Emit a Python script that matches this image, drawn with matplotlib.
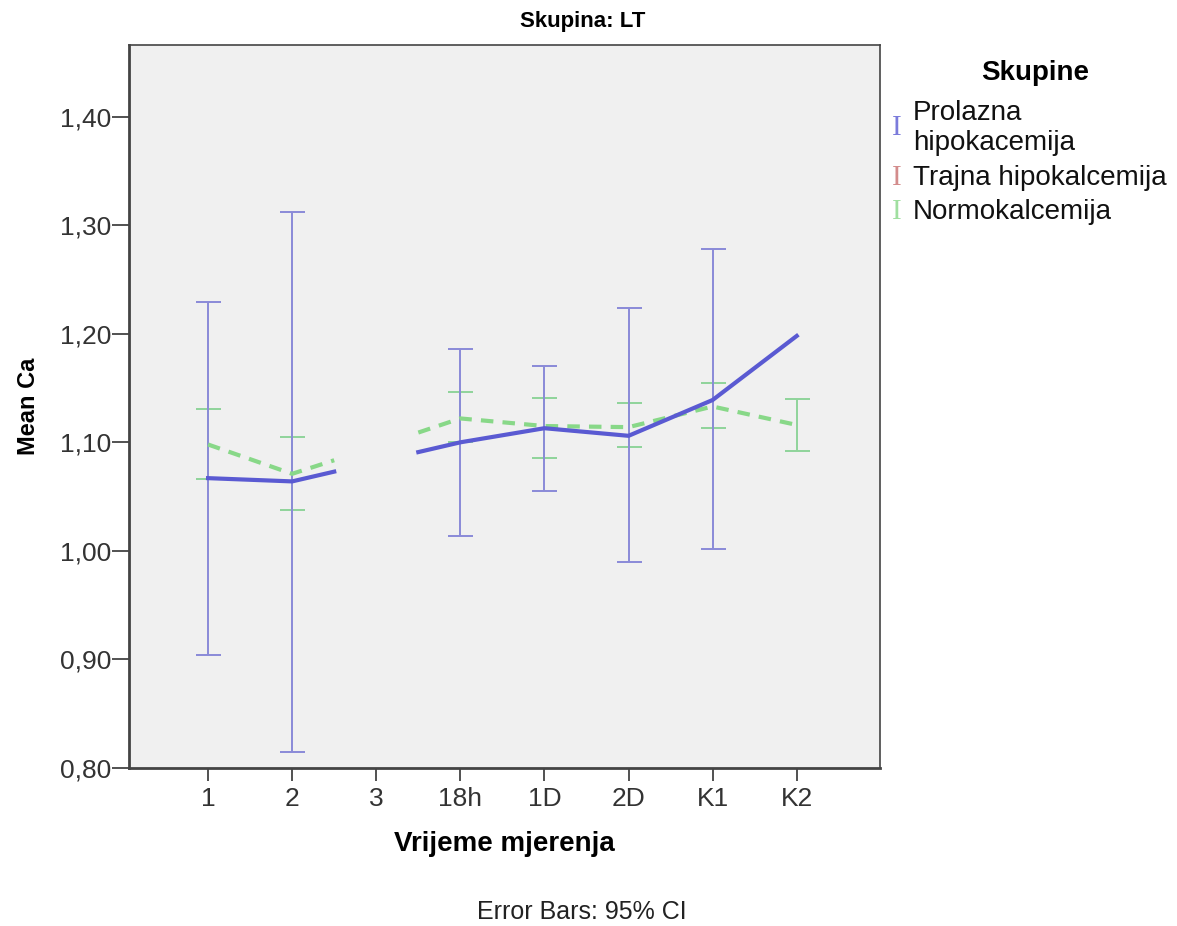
import numpy as np
import matplotlib.pyplot as plt

plt.rcParams['font.family'] = ['Liberation Sans', 'DejaVu Sans']

categories = ["1", "2", "3", "18h", "1D", "2D", "K1", "K2"]

# Prolazna hipokacemija (point at "3" is not shown, only the half segments)
blue_mean = [1.067, 1.064, 1.082, 1.100, 1.113, 1.106, 1.139, 1.198]
blue_lo = [0.904, 0.815, np.nan, 1.014, 1.055, 0.990, 1.002, np.nan]
blue_hi = [1.229, 1.312, np.nan, 1.186, 1.170, 1.224, 1.278, np.nan]
blue_hidden = [2]

# Normokalcemija
green_mean = [1.098, 1.071, 1.096, 1.122, 1.115, 1.114, 1.133, 1.116]
green_lo = [1.066, 1.038, np.nan, 1.100, 1.086, 1.096, 1.113, 1.092]
green_hi = [1.131, 1.105, np.nan, 1.146, 1.141, 1.136, 1.155, 1.140]
green_hidden = [2]

legend_labels = ["Prolazna\nhipokacemija", "Trajna hipokalcemija", "Normokalcemija"]
BLUE = "#5a5ad2"
BLUE_EB = "#8a8ad8"
GREEN = "#88d888"
GREEN_EB = "#8fd49a"
RED = "#c87070"


def half_path(mean, hidden):
    """SPSS style line: each shown point gets segments halfway to neighbours."""
    n = len(mean)
    xs, ys = [], []
    for i in range(n):
        if i in hidden:
            xs.append(np.nan)
            ys.append(np.nan)
            continue
        if i > 0:
            xs.append(i - 0.5)
            ys.append((mean[i - 1] + mean[i]) / 2)
        xs.append(i)
        ys.append(mean[i])
        if i < n - 1:
            xs.append(i + 0.5)
            ys.append((mean[i] + mean[i + 1]) / 2)
    return xs, ys


fig = plt.figure(figsize=(11.77, 9.26), dpi=100)
ax = fig.add_axes([129 / 1177, 1 - 768 / 926, 751 / 1177, 723 / 926])
ax.set_facecolor("#f0f0f0")

x = np.arange(len(categories))

for mean, lo, hi, col in [(green_mean, green_lo, green_hi, GREEN_EB),
                          (blue_mean, blue_lo, blue_hi, BLUE_EB)]:
    m = np.array(mean)
    lo = np.array(lo)
    hi = np.array(hi)
    ok = ~np.isnan(lo)
    ax.errorbar(x[ok], m[ok], yerr=[m[ok] - lo[ok], hi[ok] - m[ok]], fmt="none",
                ecolor=col, elinewidth=1.4, capsize=9, capthick=1.4, zorder=2)

gx, gy = half_path(green_mean, green_hidden)
ax.plot(gx, gy, color=GREEN, lw=3, ls=(0, (3, 2.2)), zorder=3)
bx, by = half_path(blue_mean, blue_hidden)
ax.plot(bx, by, color=BLUE, lw=3, zorder=4)

ax.set_xlim(-0.94, 7.99)
ax.set_ylim(0.80, 1.466)
ax.set_xticks(x)
ax.set_xticklabels(categories, fontsize=19)
ax.set_yticks([0.80, 0.90, 1.00, 1.10, 1.20, 1.30, 1.40])
ax.set_yticklabels(["0,80", "0,90", "1,00", "1,10", "1,20", "1,30", "1,40"],
                   fontsize=19)
ax.tick_params(axis="both", colors="#333333", direction="out")
ax.tick_params(axis="y", length=12, width=1.2, pad=1)
ax.tick_params(axis="x", length=9, width=1.2, pad=5)
for s in ax.spines.values():
    s.set_color("#444444")
    s.set_linewidth(1.2)
ax.spines["left"].set_linewidth(2)
ax.spines["bottom"].set_linewidth(2)

ax.set_xlabel("Vrijeme mjerenja", fontsize=20, fontweight="bold", labelpad=14)
ax.set_ylabel("Mean Ca", fontsize=17, fontweight="bold", labelpad=14)

fig.text(583 / 1177, 1 - 22 / 926, "Skupina: LT", fontsize=16, fontweight="bold",
         ha="center", va="center")
fig.text(582 / 1177, 1 - 912 / 926, "Error Bars: 95% CI", fontsize=18,
         ha="center", va="center", color="#222222")

# legend
fig.text(1035 / 1177, 1 - 73 / 926, "Skupine", fontsize=20, fontweight="bold",
         ha="center", va="center")
rows = [[113, 143], [178], [212]]
for lab, col, ys in zip(legend_labels, [BLUE, RED, GREEN], rows):
    fig.text(897 / 1177, 1 - np.mean(ys) / 926, "I", family="Liberation Serif",
             fontsize=21, color=col, ha="center", va="center", alpha=0.8)
    for line, yy in zip(lab.split("\n"), ys):
        fig.text(913 / 1177, 1 - yy / 926, line, fontsize=20, ha="left",
                 va="center", color="#111111")

fig.savefig("out.png", dpi=100)
